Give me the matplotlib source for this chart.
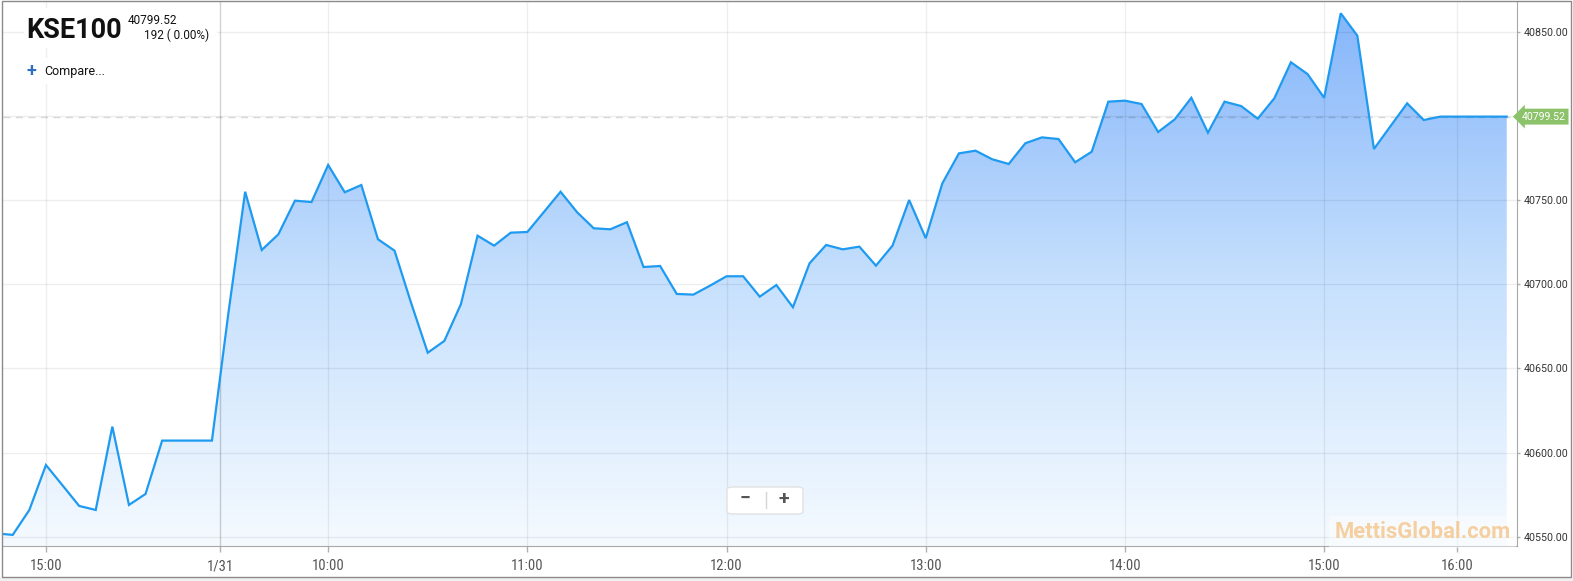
import numpy as np
import matplotlib
matplotlib.use("Agg")
import matplotlib.pyplot as plt
from matplotlib import font_manager
from matplotlib.colors import LinearSegmentedColormap
from matplotlib.patches import Rectangle, FancyBboxPatch

# KSE100 intraday, 5 minute points (first one sits just off the left edge)
prices = [
    40552.0, 40551.1, 40565.9, 40592.6, 40580.5, 40568.3, 40565.9, 40615.4,
    40568.9, 40575.4, 40607.1, 40607.1, 40607.1, 40607.1, 40683.5, 40754.9,
    40720.3, 40729.6, 40749.6, 40748.8, 40770.8, 40754.6, 40758.9, 40726.7,
    40719.9, 40688.8, 40659.3, 40666.3, 40688.2, 40728.8, 40722.9, 40730.6,
    40731.0, 40742.9, 40754.9, 40742.7, 40733.2, 40732.6, 40736.8, 40710.2,
    40710.8, 40694.2, 40693.8, 40699.1, 40704.7, 40704.7, 40692.6, 40699.5,
    40686.3, 40712.4, 40723.3, 40720.7, 40722.3, 40711.0, 40722.9, 40750.0,
    40727.3, 40759.9, 40777.7, 40779.3, 40774.2, 40771.4, 40783.7, 40787.2,
    40786.2, 40772.4, 40778.7, 40808.4, 40809.0, 40807.0, 40790.4, 40797.9,
    40810.7, 40790.0, 40808.4, 40805.8, 40798.3, 40810.4, 40831.8, 40824.8,
    40810.7, 40860.9, 40847.6, 40780.3, 40793.9, 40807.4, 40797.5, 40799.52,
    40799.52, 40799.52, 40799.52, 40799.52,
]
last_price = 40799.52
change_text = "192 ( 0.00%)"

# x ticks are placed on the point index (chart skips non-trading time)
tick_pos = [3, 13.5, 20, 32, 44, 56, 68, 80, 88]
tick_labels = ["15:00", "1/31", "10:00", "11:00", "12:00", "13:00", "14:00", "15:00", "16:00"]
day_break = "1/31"
y_ticks = [40550, 40600, 40650, 40700, 40750, 40800, 40850]

W, H = 1573, 581

installed = {f.name for f in font_manager.fontManager.ttflist}
narrow = "Roboto Condensed" if "Roboto Condensed" in installed else "Roboto"
plt.rcParams["font.family"] = ["Roboto", "DejaVu Sans"]


def fx(px):
    return px / W


def fy(py):
    return 1 - py / H


fig = plt.figure(figsize=(W / 100, H / 100), dpi=100, facecolor="white")

# outer frame
fig.patches.append(Rectangle((0, 0), 1, fy(577), transform=fig.transFigure,
                             fc="#f0f0f0", ec="none", zorder=-2))
fig.patches.append(Rectangle((fx(2), fy(577)), fx(1571) - fx(2), fy(1) - fy(577),
                             transform=fig.transFigure, fc="none", ec="#8a8a8a",
                             lw=1, zorder=10))

ax = fig.add_axes([fx(3), fy(546), fx(1516.7) - fx(3), fy(2) - fy(546)])
ax.set_facecolor("white")

x = np.arange(len(prices))
ymin, ymax = 40544.5, 40867.6
xmin, xmax = 0.413, 91.6

# gradient area under the line
poly = ax.fill_between(x, prices, ymin, color="none", lw=0)
cmap = LinearSegmentedColormap.from_list("kse", ["#f5faff", "#c6e0fd", "#86b6fa"])
grad = np.linspace(0, 1, 256).reshape(-1, 1)
im = ax.imshow(grad, aspect="auto", cmap=cmap, origin="lower",
               extent=[x[0], x[-1], ymin, max(prices)], zorder=1)
im.set_clip_path(poly.get_paths()[0], transform=ax.transData)

ax.plot(x, prices, color="#1e9bf0", lw=1.6, zorder=4, solid_joinstyle="miter")

# grid
for yv in y_ticks:
    ax.axhline(yv, color=(0, 0, 0, 0.065), lw=1, zorder=2)
for pos, lab in zip(tick_pos, tick_labels):
    c = (0, 0, 0, 0.18) if lab == day_break else (0, 0, 0, 0.065)
    ax.axvline(pos, color=c, lw=1, zorder=2)

ax.axhline(last_price, color=(0, 0, 0, 0.14), lw=1, ls=(0, (5, 4)), zorder=3)

ax.set_xlim(xmin, xmax)
ax.set_ylim(ymin, ymax)

ax.set_xticks(tick_pos)
ax.set_xticklabels(tick_labels, fontfamily=narrow, fontsize=10.5, color="#555555")
ax.set_yticks(y_ticks)
ax.set_yticklabels([f"{v:.2f}" for v in y_ticks], fontfamily="Roboto", fontsize=7.7,
                   color="#333333")
ax.yaxis.tick_right()
ax.tick_params(axis="x", length=4.5, width=1, color="#b0b0b0", pad=5)
ax.tick_params(axis="y", length=2.5, width=1, color="#b0b0b0", pad=2.5)

for side in ["top", "left"]:
    ax.spines[side].set_visible(False)
ax.spines["bottom"].set_color("#a8a8a8")
ax.spines["right"].set_color("#a8a8a8")

# last price tag
ax.annotate(f"{last_price:.2f}", xy=(1, last_price), xycoords=("axes fraction", "data"),
            xytext=(5, 0), textcoords="offset pixels", ha="left", va="center",
            fontfamily="Roboto", fontsize=7.6, color="white", zorder=6,
            bbox=dict(boxstyle="larrow,pad=0.28", fc="#8cc36a", ec="none"),
            annotation_clip=False)

# header
fig.patches.append(Rectangle((fx(24), fy(48)), fx(217) - fx(24), fy(8) - fy(48),
                             transform=fig.transFigure, fc="white", ec="none", zorder=5))
fig.patches.append(Rectangle((fx(20), fy(84)), fx(112) - fx(20), fy(58) - fy(84),
                             transform=fig.transFigure, fc="white", ec="none", zorder=5))
fig.text(fx(26), fy(30), "KSE100", fontsize=19.5, fontweight="bold", color="#111111",
         ha="left", va="center", zorder=6)
fig.text(fx(128), fy(20), f"{last_price:.2f}", fontsize=8.5, color="#111111",
         ha="left", va="center", zorder=6)
fig.text(fx(209), fy(35), change_text, fontsize=8.5, color="#111111",
         ha="right", va="center", zorder=6)
fig.text(fx(31), fy(71), "+", fontsize=13, fontweight="bold", color="#2f6fc0",
         ha="center", va="center", zorder=6)
fig.text(fx(44), fy(71), "Compare...", fontsize=9, color="#111111",
         ha="left", va="center", zorder=6)

# zoom control
fig.patches.append(FancyBboxPatch((fx(727), fy(514)), fx(803) - fx(727), fy(487) - fy(514),
                                  boxstyle="round,pad=0,rounding_size=0.004",
                                  transform=fig.transFigure, fc="white",
                                  ec="#e2e2e2", lw=1, zorder=5))
fig.text(fx(745), fy(499), "\u2212", fontsize=14, fontweight="bold", color="#555555",
         ha="center", va="center", zorder=6)
fig.text(fx(784), fy(499), "+", fontsize=14, fontweight="bold", color="#555555",
         ha="center", va="center", zorder=6)
fig.lines.append(plt.Line2D([fx(766), fx(766)], [fy(492), fy(508)],
                            transform=fig.transFigure, color="#d5d5d5", lw=1, zorder=6))

# watermark
fig.text(fx(1511), fy(532), "MettisGlobal.com", fontsize=15.8,
         fontweight="bold", color="#f6bd78", alpha=0.7, ha="right", va="center", zorder=6,
         bbox=dict(fc="white", ec="none", alpha=0.45, pad=4))

fig.savefig("out.png", dpi=100, facecolor=fig.get_facecolor())
